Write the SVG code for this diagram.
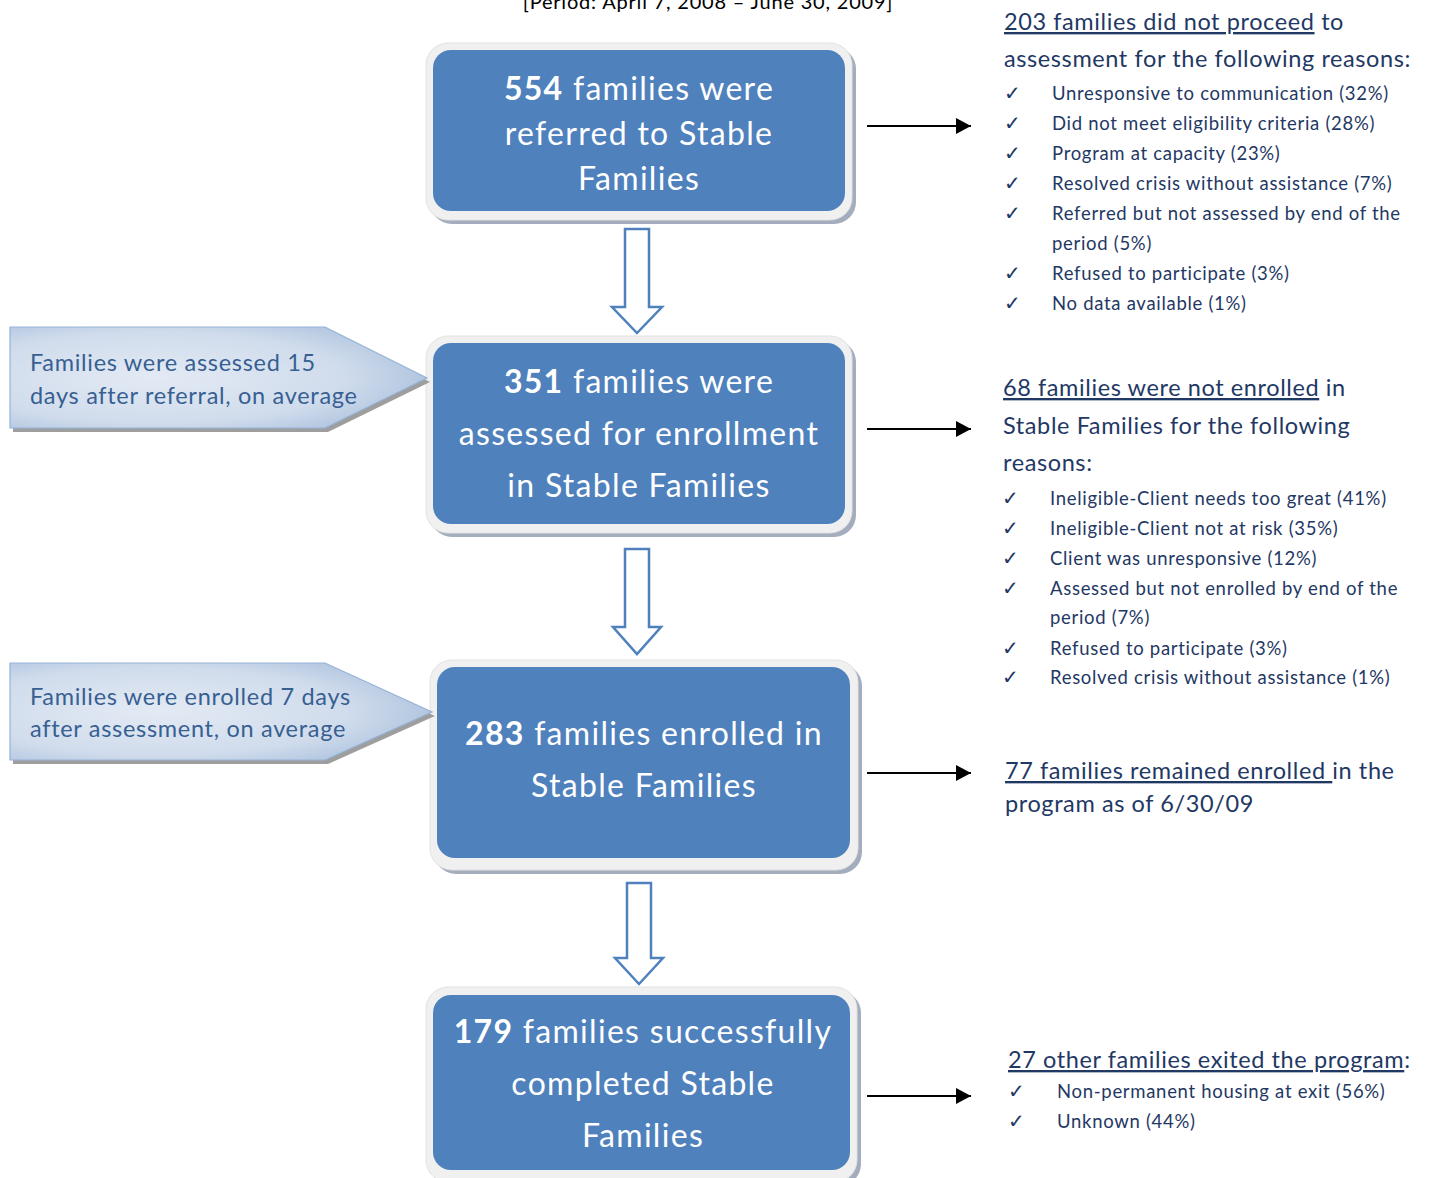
<svg xmlns="http://www.w3.org/2000/svg" width="1431" height="1178" viewBox="0 0 1431 1178">
<defs>
<radialGradient id="cg" cx="0.35" cy="0.5" r="0.75">
<stop offset="0" stop-color="#E3EAF4"/>
<stop offset="0.6" stop-color="#D0DCEC"/>
<stop offset="1" stop-color="#A3BBDA"/>
</radialGradient>
<marker id="ah" markerWidth="16" markerHeight="16" refX="15" refY="8" orient="auto" markerUnits="userSpaceOnUse">
<path d="M0,0 L15,8 L0,16 Z" fill="#000"/>
</marker>
<style>
.frame{fill:#F0F0F0;stroke:#E2E2E2;stroke-width:1}
.shadow{fill:#A3ADBD}
.blue{fill:#4F81BD}
.bt{font-family:Lato,"Open Sans",sans-serif;font-size:32px;letter-spacing:1.3px;fill:#fff;text-anchor:middle}
.bt tspan.b{font-weight:bold}
.callout{fill:url(#cg);stroke:#95B3D7;stroke-width:1.2}
.cshadow{fill:#9E9E9E}
.ct{font-family:Lato,"Open Sans",sans-serif;font-size:23.5px;letter-spacing:0.7px;fill:#375F92}
.hd{font-family:Lato,"Open Sans",sans-serif;font-size:23.5px;letter-spacing:0.6px;fill:#1F3864}
.li{font-family:Lato,"Open Sans",sans-serif;font-size:18.5px;letter-spacing:0.7px;fill:#1F3864}
.ck{font-family:"DejaVu Sans",sans-serif;font-size:20px;fill:#1F3864}
.u{text-decoration:underline}
.darr{fill:#fff;stroke:#4F81BD;stroke-width:2.5}
.harr{stroke:#000;stroke-width:2;fill:none}
.title{font-family:Lato,"Open Sans",sans-serif;font-size:20px;letter-spacing:0.8px;fill:#000;text-anchor:middle}
</style>
</defs>
<rect width="1431" height="1178" fill="#fff"/>
<text class="title" x="708" y="9">[Period: April 7, 2008 – June 30, 2009]</text>

<g id="connectors">
<path class="darr" d="M625,229 H649 V307 H662 L637,333 L612,307 H625 Z"/>
<path class="darr" d="M625,549 H649 V627 H661 L637,654 L613,627 H625 Z"/>
<path class="darr" d="M627,883 H651 V958 H663 L639,984 L615,958 H627 Z"/>
<line class="harr" x1="867" y1="126" x2="971" y2="126" marker-end="url(#ah)"/>
<line class="harr" x1="867" y1="429" x2="971" y2="429" marker-end="url(#ah)"/>
<line class="harr" x1="867" y1="773" x2="971" y2="773" marker-end="url(#ah)"/>
<line class="harr" x1="867" y1="1096" x2="971" y2="1096" marker-end="url(#ah)"/>
</g>

<g id="box1">
<rect class="shadow" x="430" y="47" width="426" height="177" rx="22"/>
<rect class="frame" x="426" y="43" width="426" height="177" rx="22"/>
<rect class="blue" x="433" y="50" width="412" height="161" rx="18"/>
<text class="bt" x="639" y="100"><tspan class="b">554</tspan> families were</text>
<text class="bt" x="639" y="145">referred to Stable</text>
<text class="bt" x="639" y="190">Families</text>
</g>

<g id="box2">
<rect class="shadow" x="430" y="340" width="426" height="197" rx="22"/>
<rect class="frame" x="426" y="336" width="426" height="197" rx="22"/>
<rect class="blue" x="433" y="343" width="412" height="181" rx="18"/>
<text class="bt" x="639" y="393"><tspan class="b">351</tspan> families were</text>
<text class="bt" x="639" y="445">assessed for enrollment</text>
<text class="bt" x="639" y="497">in Stable Families</text>
</g>

<g id="box3">
<rect class="shadow" x="434" y="664" width="428" height="210" rx="22"/>
<rect class="frame" x="430" y="660" width="428" height="210" rx="22"/>
<rect class="blue" x="437" y="667" width="413" height="191" rx="18"/>
<text class="bt" x="644" y="745"><tspan class="b">283</tspan> families enrolled in</text>
<text class="bt" x="644" y="797">Stable Families</text>
</g>

<g id="box4">
<rect class="shadow" x="430" y="991" width="431" height="195" rx="22"/>
<rect class="frame" x="426" y="987" width="431" height="195" rx="22"/>
<rect class="blue" x="433" y="995" width="417" height="175" rx="18"/>
<text class="bt" x="643" y="1043"><tspan class="b">179</tspan> families successfully</text>
<text class="bt" x="643" y="1095">completed Stable</text>
<text class="bt" x="643" y="1147">Families</text>
</g>

<g id="callout1">
<polygon class="cshadow" points="13,331 328,331 430,382 328,432 13,432"/>
<polygon class="callout" points="10,327 325,327 427,378 325,428 10,428"/>
<text class="ct" x="30" y="371">Families were assessed 15</text>
<text class="ct" x="30" y="404">days after referral, on average</text>
</g>

<g id="callout2">
<polygon class="cshadow" points="13,667 328,667 435,716 328,764 13,764"/>
<polygon class="callout" points="10,663 325,663 432,712 325,760 10,760"/>
<text class="ct" x="30" y="705">Families were enrolled 7 days</text>
<text class="ct" x="30" y="737">after assessment, on average</text>
</g>

<g id="reasons1">
<text class="hd" x="1004" y="30"><tspan class="u">203 families did not proceed</tspan> to</text>
<text class="hd" x="1004" y="67">assessment for the following reasons:</text>
<text class="ck" x="1004" y="100">✓</text><text class="li" x="1052" y="100">Unresponsive to communication (32%)</text>
<text class="ck" x="1004" y="130">✓</text><text class="li" x="1052" y="130">Did not meet eligibility criteria (28%)</text>
<text class="ck" x="1004" y="160">✓</text><text class="li" x="1052" y="160">Program at capacity (23%)</text>
<text class="ck" x="1004" y="190">✓</text><text class="li" x="1052" y="190">Resolved crisis without assistance (7%)</text>
<text class="ck" x="1004" y="220">✓</text><text class="li" x="1052" y="220">Referred but not assessed by end of the</text>
<text class="li" x="1052" y="250">period (5%)</text>
<text class="ck" x="1004" y="280">✓</text><text class="li" x="1052" y="280">Refused to participate (3%)</text>
<text class="ck" x="1004" y="310">✓</text><text class="li" x="1052" y="310">No data available (1%)</text>
</g>

<g id="reasons2">
<text class="hd" x="1003" y="396"><tspan class="u">68 families were not enrolled</tspan> in</text>
<text class="hd" x="1003" y="434">Stable Families for the following</text>
<text class="hd" x="1003" y="471">reasons:</text>
<text class="ck" x="1002" y="505">✓</text><text class="li" x="1050" y="505">Ineligible-Client needs too great (41%)</text>
<text class="ck" x="1002" y="535">✓</text><text class="li" x="1050" y="535">Ineligible-Client not at risk (35%)</text>
<text class="ck" x="1002" y="565">✓</text><text class="li" x="1050" y="565">Client was unresponsive (12%)</text>
<text class="ck" x="1002" y="595">✓</text><text class="li" x="1050" y="595">Assessed but not enrolled by end of the</text>
<text class="li" x="1050" y="624">period (7%)</text>
<text class="ck" x="1002" y="655">✓</text><text class="li" x="1050" y="655">Refused to participate (3%)</text>
<text class="ck" x="1002" y="684">✓</text><text class="li" x="1050" y="684">Resolved crisis without assistance (1%)</text>
</g>

<g id="remained">
<text class="hd" x="1005" y="779"><tspan class="u">77 families remained enrolled </tspan>in the</text>
<text class="hd" x="1005" y="812">program as of 6/30/09</text>
</g>

<g id="exited">
<text class="hd" x="1008" y="1068"><tspan class="u">27 other families exited the program</tspan>:</text>
<text class="ck" x="1008" y="1098">✓</text><text class="li" x="1057" y="1098">Non-permanent housing at exit (56%)</text>
<text class="ck" x="1008" y="1128">✓</text><text class="li" x="1057" y="1128">Unknown (44%)</text>
</g>
</svg>
